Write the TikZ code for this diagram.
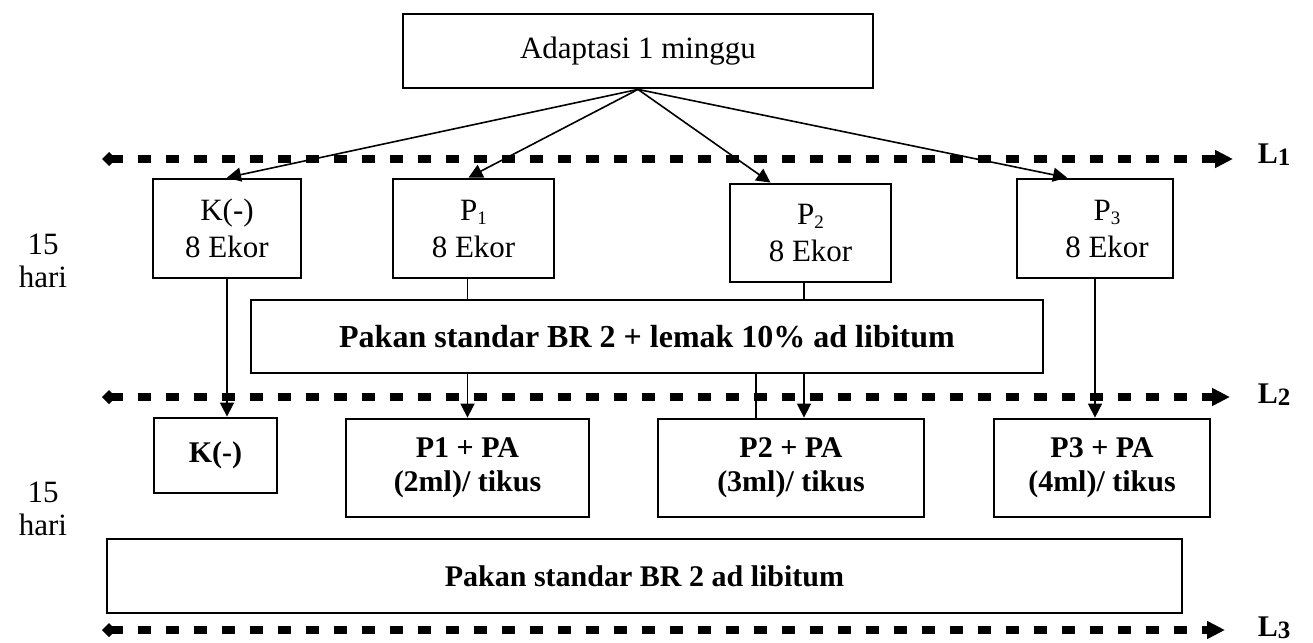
\documentclass[tikz,border=0pt]{standalone}
\usepackage{fontspec}
\setmainfont{Liberation Serif}
\usetikzlibrary{arrows.meta,calc}
\tikzset{every picture/.style={>={Triangle[length=14pt,width=14pt]},line width=1.6pt}}
\newcommand{\psub}[1]{\raisebox{-4pt}{\fontsize{19}{19}\selectfont #1}}
\newcommand{\lsub}[1]{\raisebox{-2pt}{\fontsize{25}{25}\selectfont\bfseries #1}}

\begin{document}
\begin{tikzpicture}[x=1pt,y=-1pt,
    box/.style={draw,line width=2.8pt,inner sep=0pt,align=center,font=\fontsize{31}{37}\selectfont},
    boldbox/.style={box,font=\fontsize{30}{34}\selectfont\bfseries},
    limit/.style={line width=8pt,dash pattern=on 13pt off 15pt,{Diamond[length=14pt,width=14pt]}-{Triangle[length=18pt,width=17pt]}},
    lvl/.style={anchor=base west,inner sep=0pt,font=\fontsize{30}{30}\selectfont\bfseries},
    days/.style={align=center,inner sep=0pt,font=\fontsize{31}{33}\selectfont}]
  \useasboundingbox (0,0) rectangle (1313,642);
  \node[box,minimum width=470pt,minimum height=74pt] (top) at (638,51) {Adaptasi 1 minggu};
  \node[box,minimum width=148pt,minimum height=99pt] (K) at (227,228.5) {K(-)\\8 Ekor};
  \node[box,minimum width=161pt,minimum height=99pt] (P1) at (473.5,228.5) {P\psub{1}\\8 Ekor};
  \node[box,minimum width=161pt,minimum height=98pt] (P2) at (810.5,233) {P\psub{2}\\8 Ekor};
  \node[box,minimum width=156pt,minimum height=99pt] (P3) at (1095,228.5) {\hspace*{24pt}P\psub{3}\\\hspace*{24pt}8 Ekor};
  \node[boldbox,minimum width=792pt,minimum height=73pt,font=\fontsize{32}{38}\selectfont\bfseries] (lemak) at (647,336.5) {Pakan standar BR 2 + lemak 10\% ad libitum};
  \node[boldbox,minimum width=123pt,minimum height=75pt] (K2) at (215.5,455.5) {K(-)};
  \node[boldbox,minimum width=243pt,minimum height=98pt] (P1PA) at (467.5,468) {P1 + PA\\(2ml)/ tikus};
  \node[boldbox,minimum width=266pt,minimum height=98pt] (P2PA) at (791,468) {P2 + PA\\(3ml)/ tikus};
  \node[boldbox,minimum width=216pt,minimum height=98pt] (P3PA) at (1102,468) {P3 + PA\\(4ml)/ tikus};
  \node[boldbox,minimum width=1075pt,minimum height=74pt] (pakan) at (644.5,576) {Pakan standar BR 2 ad libitum};
  \node[days] (d1) at (43,261) {15\\hari};
  \node[days] (d2) at (43,509) {15\\hari};

  \coordinate (L1a) at (102,159);
  \coordinate (L1b) at (1233,159);
  \coordinate (L2a) at (102,397);
  \coordinate (L2b) at (1230,397);
  \coordinate (L3a) at (102,630);
  \coordinate (L3b) at (1225,630);
  \draw[limit] (L1a) -- (L1b);
  \draw[limit] (L2a) -- (L2b);
  \draw[limit] (L3a) -- (L3b);
  \node[lvl] (L1) at (1257,163) {L\lsub{1}};
  \node[lvl] (L2) at (1257,403) {L\lsub{2}};
  \node[lvl] (L3) at (1257,636) {L\lsub{3}};

  \draw[->] (top.south) -- (K.north);
  \draw[->] (top.south) -- ([xshift=-5pt]P1.north);
  \draw[->] (top.south) -- ([xshift=-40pt]P2.north);
  \draw[->] (top.south) -- ([xshift=-28pt]P3.north);
  \draw[->] (K.south) -- (K.south |- K2.north);
  \draw (P1.south -| P1PA.north) -- (lemak.north -| P1PA.north);
  \draw[->] (lemak.south -| P1PA.north) -- (P1PA.north);
  \coordinate (c2) at (804,0);
  \coordinate (c3) at (756,0);
  \draw (P2.south -| c2) -- (lemak.north -| c2);
  \draw[->] (lemak.south -| c2) -- (P2PA.north -| c2);
  \draw (lemak.south -| c3) -- (P2PA.north -| c3);
  \draw[->] (P3.south) -- (P3.south |- P3PA.north);
\end{tikzpicture}
\end{document}
